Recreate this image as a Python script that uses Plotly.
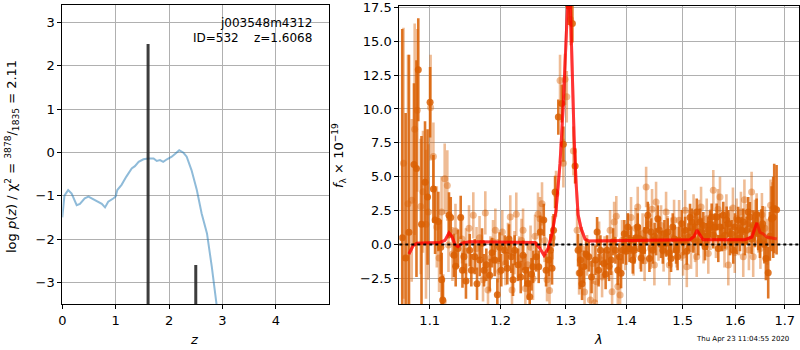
import plotly.graph_objects as go

# ---------------- left panel: p(z) ----------------
z_grid = [0.0, 0.04, 0.11, 0.175, 0.27, 0.33, 0.42, 0.49, 0.55, 0.61, 0.675, 0.74, 0.80, 0.86,
          0.96, 1.00, 1.03, 1.11, 1.20, 1.30, 1.36, 1.43, 1.52, 1.61, 1.71, 1.77, 1.83, 1.89,
          1.96, 2.05, 2.11, 2.19, 2.27, 2.33, 2.42, 2.52, 2.61, 2.71, 2.80, 2.89, 2.95]
logpz = [-1.50, -1.00, -0.87, -0.95, -1.22, -1.19, -1.06, -1.02, -1.06, -1.10, -1.14, -1.19, -1.27, -1.14,
         -1.06, -1.02, -0.87, -0.75, -0.56, -0.37, -0.32, -0.22, -0.16, -0.14, -0.14, -0.20, -0.18, -0.22,
         -0.16, -0.10, -0.04, 0.05, -0.01, -0.10, -0.41, -0.87, -1.41, -1.87, -2.64, -3.50, -4.10]
peak_z = [1.6068, 2.50]
peak_val = [2.5, -2.6]

# ---------------- right panel: spectrum ----------------
# orient A (dark)
lam_a = [1.0636, 1.0680, 1.0724, 1.0790, 1.0823, 1.0847, 1.0890, 1.0937, 1.0971, 1.1005,
         1.1050, 1.1073, 1.1117, 1.1150, 1.1163, 1.1177, 1.1263, 1.1287, 1.1332, 1.1356,
         1.1388, 1.1426, 1.1451, 1.1472, 1.1500, 1.1553, 1.1576, 1.1624, 1.1657, 1.1696,
         1.1729, 1.1758, 1.1791, 1.1840, 1.1873, 1.1912, 1.1951, 1.1983, 1.2009, 1.2059,
         1.2098, 1.2123, 1.2157, 1.2183, 1.2208, 1.2258, 1.2299, 1.2334, 1.2369, 1.2410,
         1.2435, 1.2463, 1.2486, 1.2536, 1.2573, 1.2598, 1.2651, 1.2687, 1.2729, 1.2754,
         1.2780, 1.2804, 1.2828, 1.2879, 1.2933, 1.2959, 1.3045, 1.3103, 1.3147, 1.3195,
         1.3222, 1.3232, 1.3259, 1.3287, 1.3325, 1.3369, 1.3415, 1.3478, 1.3506, 1.3531,
         1.3561, 1.3618, 1.3648, 1.3673, 1.3706, 1.3740, 1.3774, 1.3813, 1.3853, 1.3880,
         1.3909, 1.3938, 1.3965, 1.3995, 1.4024, 1.4054, 1.4080, 1.4110, 1.4138, 1.4167,
         1.4196, 1.4225, 1.4255, 1.4284, 1.4316, 1.4343, 1.4372, 1.4401, 1.4431, 1.4461,
         1.4493, 1.4519, 1.4550, 1.4578, 1.4608, 1.4639, 1.4668, 1.4698, 1.4729, 1.4757,
         1.4788, 1.4819, 1.4849, 1.4880, 1.4907, 1.4935, 1.4984, 1.5014, 1.5045, 1.5076,
         1.5106, 1.5136, 1.5168, 1.5198, 1.5230, 1.5261, 1.5291, 1.5323, 1.5355, 1.5385,
         1.5417, 1.5449, 1.5479, 1.5510, 1.5543, 1.5574, 1.5606, 1.5639, 1.5670, 1.5702,
         1.5735, 1.5766, 1.5799, 1.5831, 1.5863, 1.5895, 1.5928, 1.5960, 1.5993, 1.6026,
         1.6058, 1.6091, 1.6125, 1.6157, 1.6190, 1.6224, 1.6256, 1.6289, 1.6323, 1.6355,
         1.6390, 1.6424, 1.6456, 1.6490, 1.6520, 1.6545, 1.6581, 1.6612, 1.6659, 1.6693,
         1.6728, 1.6761, 1.6782, 1.6831]
flux_a = [0.5, -1.0, 0.9, 5.9, 5.6, 12.9, 1.5, 4.6, 3.5, 10.5,
          4.1, 1.8, 1.7, -0.2, -2.6, -4.1, 2.15, 2.0, -0.8, -1.6,
          -0.3, 2.0, -1.9, -0.9, -2.7, -0.42, -1.9, -0.9, -2.9, -1.15,
          0.1, -1.9, -1.5, -2.26, -0.6, -1.15, -3.7, -0.2, -1.9, -0.42,
          -1.76, 0.4, -0.9, -2.6, -0.42, -1.5, -2.4, -0.79, -1.9, -2.87,
          -3.85, -2.2, -1.65, -0.9, -1.65, 0.93, 1.8, -1.9, -1.15, -0.42,
          -1.76, 1.05, 3.87, 9.4, 10.4, 7.4, 17.6, 16.3, 5.8, -0.42,
          -2.1, -1.15, -2.9, -1.65, -0.7, -0.9, -2.4, -1.15, 0.93, -1.9,
          -0.42, -1.4, -2.2, -0.42, -1.6, -1.15, 0.2, -0.42, -1.9, -0.9,
          -2.13, -0.42, 0.8, -0.5, 1.3, -0.3, 0.32, -1.15, -0.42, 0.5,
          1.3, 0.44, -1.0, -0.42, 0.3, 1.05, 2.15, -1.03, 0.93, -0.42,
          0.6, 0.2, 1.9, 1.05, 0.0, -0.42, 0.8, 0.1, 0.93, -0.6,
          -1.03, 1.3, 0.4, -0.42, -0.9, 0.32, 1.54, 0.2, 1.05, -0.5,
          0.56, 2.0, 1.66, 0.4, 1.3, 2.4, 0.2, 1.66, 0.93, 1.4,
          -0.17, 0.6, 1.05, 1.5, 2.03, 0.7, 1.3, 2.03, -0.3, 1.3,
          0.5, 2.15, 0.68, 1.8, 1.54, 0.2, 0.8, -0.42, 1.3, 0.3,
          1.79, 0.5, 1.05, 1.66, 0.2, 1.05, 2.4, 2.03, 0.4, 1.42,
          0.9, 2.2, 0.8, 0.2, 1.3, 1.54, 0.0, -1.03, -2.08, 0.6,
          1.9, 2.0, 2.65, 2.57]
err_a = [15.4, 10.7, 13.1, 6.0, 8.0, 3.8, 6.5, 4.5, 5.0, 2.6,
         2.5, 2.5, 2.2, 2.0, 2.0, 1.8, 1.7, 1.5, 1.6, 1.5,
         1.4, 1.6, 1.3, 1.2, 1.3, 1.2, 1.2, 1.3, 1.2, 1.2,
         1.1, 1.2, 1.2, 1.2, 1.1, 1.2, 1.2, 1.1, 1.2, 1.1,
         1.2, 1.1, 1.2, 1.2, 1.1, 1.2, 1.2, 1.1, 1.2, 1.2,
         1.2, 1.2, 1.2, 1.1, 1.2, 1.2, 1.2, 1.2, 1.2, 1.2,
         1.2, 1.2, 1.2, 1.3, 1.4, 1.3, 1.4, 1.4, 1.3, 1.2,
         1.2, 1.2, 1.2, 1.2, 1.1, 1.1, 1.2, 1.1, 1.1, 1.2,
         1.1, 1.1, 1.1, 1.1, 1.1, 1.1, 1.0, 1.0, 1.1, 1.0,
         1.1, 1.0, 1.0, 1.0, 1.0, 1.0, 1.0, 1.0, 1.0, 1.0,
         1.0, 1.0, 1.0, 1.0, 1.0, 1.0, 1.0, 1.0, 1.0, 1.0,
         1.0, 1.0, 1.0, 1.0, 1.0, 1.0, 1.0, 1.0, 1.0, 1.0,
         1.0, 1.0, 1.0, 1.0, 1.0, 1.0, 1.0, 1.0, 1.0, 1.0,
         1.0, 1.0, 1.0, 1.0, 1.0, 1.0, 1.0, 1.0, 1.0, 1.0,
         1.0, 1.0, 1.0, 1.0, 1.0, 1.0, 1.0, 1.0, 1.0, 1.0,
         1.0, 1.0, 1.0, 1.0, 1.0, 1.0, 1.0, 1.0, 1.0, 1.0,
         1.0, 1.0, 1.0, 1.0, 1.0, 1.0, 1.1, 1.1, 1.1, 1.1,
         1.1, 1.2, 1.2, 1.2, 1.3, 1.3, 1.4, 1.6, 1.9, 1.8,
         2.4, 3.0, 3.3, 3.3]

# orient B (light)
lam_b = [1.0652, 1.0711, 1.0760, 1.0799, 1.0834, 1.0879, 1.0910, 1.0950, 1.0982, 1.1012,
         1.1050, 1.1096, 1.1127, 1.1161, 1.1185, 1.1204, 1.1240, 1.1256, 1.1311, 1.1353,
         1.1444, 1.1500, 1.1543, 1.1604, 1.1650, 1.1693, 1.1743, 1.1776, 1.1815, 1.1851,
         1.1888, 1.1922, 1.1958, 1.1986, 1.2024, 1.2071, 1.2108, 1.2142, 1.2168, 1.2205,
         1.2232, 1.2273, 1.2311, 1.2334, 1.2369, 1.2402, 1.2448, 1.2486, 1.2517, 1.2562,
         1.2593, 1.2624, 1.2663, 1.2702, 1.2741, 1.2788, 1.2843, 1.2906, 1.2959, 1.2986,
         1.3013, 1.3074, 1.3119, 1.3179, 1.3211, 1.3251, 1.3300, 1.3341, 1.3395, 1.3431,
         1.3465, 1.3498, 1.3539, 1.3589, 1.3631, 1.3723, 1.3757, 1.3791, 1.3828, 1.3853,
         1.3892, 1.3926, 1.3978, 1.4029, 1.4080, 1.4124, 1.4159, 1.4196, 1.4237, 1.4281,
         1.4316, 1.4343, 1.4387, 1.4422, 1.4448, 1.4489, 1.4519, 1.4563, 1.4608, 1.4653,
         1.4698, 1.4725, 1.4757, 1.4797, 1.4843, 1.4889, 1.4935, 1.4981, 1.5008, 1.5045,
         1.5076, 1.5118, 1.5155, 1.5202, 1.5230, 1.5261, 1.5304, 1.5342, 1.5389, 1.5449,
         1.5479, 1.5520, 1.5574, 1.5625, 1.5664, 1.5702, 1.5750, 1.5789, 1.5827, 1.5863,
         1.5905, 1.5954, 1.5989, 1.6026, 1.6072, 1.6111, 1.6157, 1.6180, 1.6230, 1.6269,
         1.6323, 1.6355, 1.6390, 1.6424, 1.6460, 1.6500, 1.6531, 1.6591, 1.6642, 1.6707,
         1.6744]
flux_b = [6.0, 3.0, 3.26, 8.5, 9.9, 2.8, 3.9, 1.5, 2.4, 10.1,
          6.5, 1.3, -1.0, 2.4, -4.2, 4.85, 4.35, -0.03, -0.7, 1.0,
          0.4, -0.5, 1.2, 2.15, -0.3, 0.5, -2.6, 2.33, -3.36, -1.0,
          0.2, 1.05, -1.2, -2.0, 0.93, -1.4, 0.0, 2.03, -3.36, -0.6,
          2.23, -1.0, 0.3, 1.05, -3.25, -1.5, -0.2, -2.5, 0.6, 2.23,
          1.9, 3.0, 0.3, -2.6, -3.4, 0.5, 3.75, 12.1, 6.0, 12.2,
          10.9, 16.6, 6.9, 1.05, -2.1, -0.3, -3.5, -0.8, -4.1, -1.4,
          -4.3, -2.75, 0.2, -2.4, -0.9, 1.05, -3.48, 1.66, 2.08, -3.1,
          -3.73, 0.3, -0.4, 0.8, 2.0, -0.8, 1.2, 2.77, -0.3, 0.8,
          -1.2, 4.24, 1.5, -0.3, 2.6, -1.52, 3.13, 0.3, 1.4, -0.5,
          2.4, 0.6, -1.52, 0.5, 1.8, -0.2, 1.79, 0.3, -0.8, 2.52,
          -1.65, 1.0, -0.3, 2.2, 0.2, -0.9, 1.8, 2.77, 0.1, 1.9,
          -0.66, 1.1, 4.0, 0.5, 2.6, 3.5, 1.0, -0.2, 2.2, -1.52,
          1.3, 2.7, -0.6, 1.9, 0.7, 2.4, -0.9, 3.3, 1.5, -0.4,
          3.87, -0.9, 1.8, 2.28, 0.9, -0.3, 2.2, 1.2, 0.2, 2.9,
          2.6]
err_b = [10.0, 11.0, 6.0, 7.8, 6.0, 5.0, 4.5, 5.5, 5.0, 3.9,
         2.5, 3.0, 2.5, 2.6, 2.0, 2.6, 2.6, 2.0, 2.0, 2.0,
         1.8, 1.7, 1.7, 1.7, 1.6, 1.6, 1.6, 1.6, 1.6, 1.6,
         1.6, 1.6, 1.6, 1.6, 1.6, 1.6, 1.6, 1.6, 1.6, 1.6,
         1.6, 1.6, 1.6, 1.6, 1.6, 1.6, 1.6, 1.6, 1.6, 1.6,
         1.6, 1.6, 1.6, 1.6, 1.6, 1.6, 1.7, 1.9, 1.8, 1.9,
         1.9, 1.9, 1.8, 1.6, 1.6, 1.6, 1.6, 1.5, 1.6, 1.5,
         1.6, 1.5, 1.5, 1.5, 1.5, 1.5, 1.5, 1.5, 1.5, 1.5,
         1.5, 1.5, 1.5, 1.5, 1.5, 1.5, 1.5, 1.5, 1.5, 1.5,
         1.5, 1.5, 1.5, 1.5, 1.5, 1.5, 1.5, 1.5, 1.5, 1.5,
         1.5, 1.5, 1.5, 1.5, 1.5, 1.5, 1.5, 1.5, 1.5, 1.5,
         1.5, 1.5, 1.5, 1.5, 1.5, 1.5, 1.5, 1.5, 1.5, 1.5,
         1.5, 1.5, 1.5, 1.5, 1.5, 1.5, 1.5, 1.5, 1.5, 1.5,
         1.5, 1.5, 1.5, 1.5, 1.5, 1.5, 1.5, 1.5, 1.5, 1.5,
         1.5, 1.5, 1.5, 1.5, 1.5, 1.5, 1.6, 1.6, 1.7, 1.9,
         2.0]

# best-fit model
lam_model = [1.0724, 1.0777, 1.0830, 1.1140, 1.1208, 1.1263, 1.1304, 1.1346, 1.1388, 1.1444,
             1.1557, 1.2440, 1.2517, 1.2593, 1.2655, 1.2718, 1.2780, 1.2843, 1.2906, 1.2954,
             1.3002, 1.3034, 1.3066, 1.3098, 1.3130, 1.3163, 1.3195, 1.3243, 1.3308, 1.3374,
             1.4953, 1.5136, 1.5211, 1.5267, 1.5323, 1.5380, 1.6190, 1.6329, 1.6390, 1.6430,
             1.6490, 1.6551, 1.6632, 1.6837]
flux_model = [-0.7, -0.1, 0.1, 0.15, 0.3, 0.85, 0.6, 0.0, -0.15, 0.1,
              0.2, 0.2, 0.15, -0.3, -0.8, -0.3, 0.8, 2.5, 6.0, 10.0,
              15.0, 18.5, 18.5, 13.0, 8.0, 4.5, 2.2, 1.2, 0.4, 0.25,
              0.35, 0.35, 0.6, 1.05, 0.7, 0.35, 0.35, 0.55, 1.2, 1.6,
              0.9, 0.8, 0.55, 0.4]
n_model_b = 40  # second orient model ends earlier

ytick_l = [3, 2, 1, 0, -1, -2, -3]
xtick_l = [0, 1, 2, 3, 4]
ytick_r = [17.5, 15.0, 12.5, 10.0, 7.5, 5.0, 2.5, 0.0, -2.5]
xtick_r = [1.1, 1.2, 1.3, 1.4, 1.5, 1.6, 1.7]

FONT = "DejaVu Sans"
DARK = "rgba(217,95,2,0.85)"
LIGHT = "rgba(217,95,2,0.42)"
MODEL = "rgba(255,0,0,0.55)"
W, H = 800, 350


def fmt(v, dec):
    s = f"{abs(v):.{dec}f}"
    return ("\u2212" + s) if v < 0 else s


fig = go.Figure()

# left panel
fig.add_trace(go.Scatter(x=z_grid, y=logpz, mode="lines",
                         line=dict(color="rgba(31,119,180,0.5)", width=2),
                         xaxis="x", yaxis="y", showlegend=False))
for zp, vp in zip(peak_z, peak_val):
    fig.add_trace(go.Scatter(x=[zp, zp], y=[-10, vp], mode="lines",
                             line=dict(color="rgba(40,40,40,0.9)", width=3),
                             xaxis="x", yaxis="y", showlegend=False))

# right panel
fig.add_trace(go.Scatter(x=lam_b, y=flux_b, mode="markers",
                         marker=dict(color=LIGHT, size=7),
                         error_y=dict(type="data", array=err_b, thickness=2.6, width=0, color=LIGHT),
                         xaxis="x2", yaxis="y2", showlegend=False))
fig.add_trace(go.Scatter(x=lam_a, y=flux_a, mode="markers",
                         marker=dict(color=DARK, size=7),
                         error_y=dict(type="data", array=err_a, thickness=2.6, width=0, color=DARK),
                         xaxis="x2", yaxis="y2", showlegend=False))
fig.add_trace(go.Scatter(x=lam_model, y=flux_model, mode="lines",
                         line=dict(color=MODEL, width=3), xaxis="x2", yaxis="y2", showlegend=False))
fig.add_trace(go.Scatter(x=lam_model[:n_model_b], y=flux_model[:n_model_b], mode="lines",
                         line=dict(color=MODEL, width=3), xaxis="x2", yaxis="y2", showlegend=False))

fig.add_shape(type="line", xref="x2 domain", yref="y2", x0=0, x1=1, y0=0, y1=0,
              line=dict(color="black", width=2, dash="dot"))

axis_common = dict(showline=True, linecolor="black", linewidth=1, mirror=True,
                   ticks="outside", ticklen=4, tickcolor="black", tickwidth=1,
                   showgrid=True, gridcolor="#b0b0b0", gridwidth=1, zeroline=False,
                   automargin=False, ticklabeloverflow="allow",
                   tickfont=dict(family=FONT, size=13, color="black"))


def ann(text, x, y, size=13, angle=0, xanchor="center"):
    return dict(text=text, xref="paper", yref="paper", x=x / W, y=1 - y / H,
                xanchor=xanchor, yanchor="middle", showarrow=False, textangle=angle,
                font=dict(family=FONT, size=size, color="black"))


fig.update_layout(
    width=W, height=H,
    margin=dict(l=0, r=0, t=0, b=0),
    paper_bgcolor="white", plot_bgcolor="white",
    font=dict(family=FONT, color="black"),
    xaxis=dict(domain=[62.3 / W, 328.7 / W], range=[0, 4.99], anchor="y",
               tickmode="array", tickvals=xtick_l, ticktext=[str(v) for v in xtick_l],
               **axis_common),
    yaxis=dict(domain=[1 - 304 / H, 1 - 5 / H], range=[-3.5, 3.4], anchor="x",
               tickmode="array", tickvals=ytick_l, ticktext=[fmt(v, 0) for v in ytick_l],
               **axis_common),
    xaxis2=dict(domain=[399.3 / W, 799.3 / W], type="log", range=[0.0252, 0.2382], anchor="y2",
                tickmode="array", tickvals=xtick_r, ticktext=[f"{v:.1f}" for v in xtick_r],
                **axis_common),
    yaxis2=dict(domain=[1 - 304 / H, 1 - 5.7 / H], range=[-4.39, 17.62], anchor="x2",
                tickmode="array", tickvals=ytick_r, ticktext=[fmt(v, 1) for v in ytick_r],
                **axis_common),
    annotations=[
        ann("j003548m4312", 314, 23, size=12, xanchor="right"),
        ann("ID=532\u00a0\u00a0\u00a0\u00a0z=1.6068", 314, 38, size=12, xanchor="right"),
        ann("<i>z</i>", 194, 339),
        ann("<i>λ</i>", 598, 339),
        ann("log <i>p</i>(<i>z</i>) / χ<sup>2</sup> = <sup>3878</sup>/<sub>1835</sub> = 2.11", 12, 157, angle=-90),
        ann("<i>f</i><sub>λ</sub> × 10<sup>−19</sup>", 339, 156, angle=-90),
        ann("Thu Apr 23 11:04:55 2020", 742, 339, size=7),
    ],
)

fig.write_html("out.html", config={"displayModeBar": False, "staticPlot": True},
               post_script="document.body.style.margin='0';document.body.style.overflow='hidden';")
